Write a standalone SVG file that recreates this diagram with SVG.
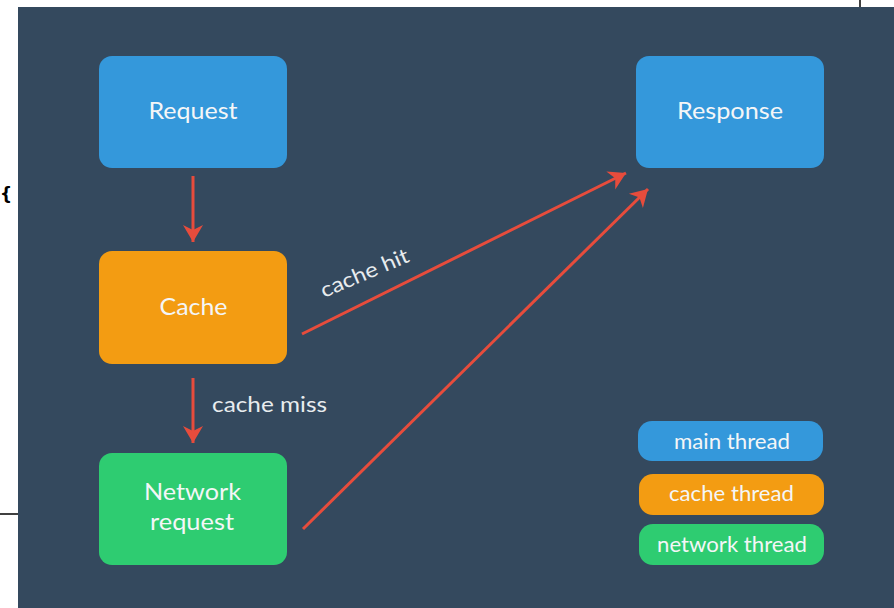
<svg xmlns="http://www.w3.org/2000/svg" width="894" height="608" viewBox="0 0 894 608">
<defs>
<marker id="ah" markerUnits="userSpaceOnUse" markerWidth="24" markerHeight="24" viewBox="-18 -12 20 24" refX="0" refY="0" orient="auto">
<path d="M0,0 L-17,-10 L-12,0 L-17,10 Z" fill="#E74C3C"/>
</marker>
<style>
.box{rx:13px}
.lbl{font-family:Lato,"Open Sans",sans-serif;fill:#F4F6F7;text-anchor:middle}
.big{font-size:24px}
.leg{font-size:20.5px}
.edge{stroke:#E74C3C;stroke-width:3;fill:none;marker-end:url(#ah)}
.elbl{font-family:Lato,"Open Sans",sans-serif;fill:#E8ECEE;font-size:21px}
</style>
</defs>
<rect width="894" height="608" fill="#ffffff"/>
<rect x="18" y="7" width="876" height="601" fill="#34495E"/>
<line x1="860" y1="0" x2="860" y2="7" stroke="#000" stroke-width="1.5"/>
<line x1="0" y1="514" x2="18" y2="514" stroke="#000" stroke-width="1.5"/>
<text x="0" y="200" font-family="'DejaVu Sans',sans-serif" font-size="17" font-weight="bold" fill="#000">{</text>

<g id="request"><rect class="box" x="99" y="56" width="188" height="112" fill="#3498DB"/><text class="lbl big" x="193" y="118.5" textLength="89" lengthAdjust="spacingAndGlyphs">Request</text></g>
<g id="response"><rect class="box" x="636" y="56" width="188" height="112" fill="#3498DB"/><text class="lbl big" x="730" y="118.5" textLength="106" lengthAdjust="spacingAndGlyphs">Response</text></g>
<g id="cache"><rect class="box" x="99" y="251" width="188" height="113" fill="#F39C12"/><text class="lbl big" x="193.5" y="315" textLength="68" lengthAdjust="spacingAndGlyphs">Cache</text></g>
<g id="network"><rect class="box" x="99" y="453" width="188" height="112" fill="#2ECC71"/><text class="lbl big" x="192.5" y="499.5" textLength="97" lengthAdjust="spacingAndGlyphs">Network</text><text class="lbl big" x="192" y="530" textLength="84" lengthAdjust="spacingAndGlyphs">request</text></g>

<g id="legend-main"><rect x="638" y="421" width="185" height="40" rx="14" fill="#3498DB"/><text class="lbl leg" x="732" y="449" textLength="116" lengthAdjust="spacingAndGlyphs">main thread</text></g>
<g id="legend-cache"><rect x="639" y="474" width="185" height="41" rx="14" fill="#F39C12"/><text class="lbl leg" x="731.5" y="500.5" textLength="125" lengthAdjust="spacingAndGlyphs">cache thread</text></g>
<g id="legend-network"><rect x="639" y="524" width="185" height="41" rx="14" fill="#2ECC71"/><text class="lbl leg" x="732" y="552" textLength="150" lengthAdjust="spacingAndGlyphs">network thread</text></g>

<g id="connectors">
<line class="edge" x1="193" y1="176" x2="193" y2="242"/>
<line class="edge" x1="193" y1="378" x2="193" y2="443"/>
<line class="edge" x1="302" y1="334" x2="626" y2="173"/>
<line class="edge" x1="303" y1="529" x2="648" y2="189"/>
<text class="elbl" x="212" y="411.5" textLength="115" lengthAdjust="spacingAndGlyphs">cache miss</text>
<text class="elbl" x="0" y="0" transform="translate(324,298) rotate(-23)" textLength="94" lengthAdjust="spacingAndGlyphs">cache hit</text>
</g>
</svg>
